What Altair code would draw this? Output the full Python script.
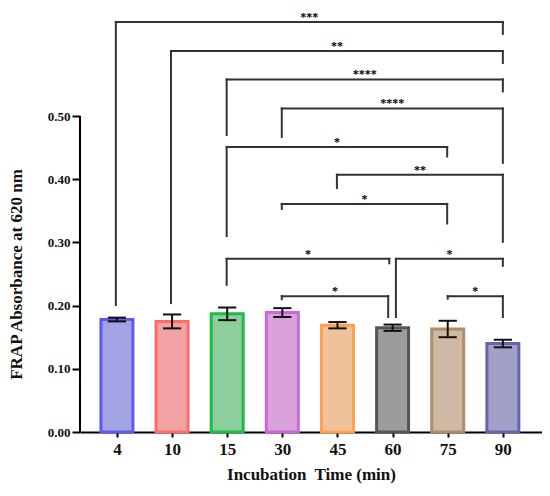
import altair as alt
import pandas as pd

# ---- data ----
times = ["4", "10", "15", "30", "45", "60", "75", "90"]
means = [0.178, 0.175, 0.187, 0.189, 0.169, 0.165, 0.163, 0.140]
errs = [0.003, 0.011, 0.010, 0.007, 0.005, 0.005, 0.013, 0.006]
fills = ["#a3a3e4", "#f2a2a2", "#8ccf9c", "#d9a2d9", "#f0c29c", "#9c9c9c", "#cfb9a5", "#a0a0c8"]
strokes = ["#5b5bf0", "#ff6b6b", "#1fbb48", "#cc66e0", "#ffa050", "#555555", "#b08c68", "#6464aa"]

# significance brackets: left pos, right pos, level, left leg end, right leg end, label
br_left = [-0.02, 0.98, 1.99, 2.99, 1.99, 3.99, 2.99, 1.99, 5.06, 2.99, 6.0]
br_right = [7.0, 7.0, 7.0, 7.0, 5.99, 7.0, 5.99, 4.94, 7.0, 4.92, 7.0]
br_level = [0.649, 0.603, 0.558, 0.512, 0.451, 0.407, 0.361, 0.274, 0.274, 0.215, 0.215]
br_lend = [0.201, 0.204, 0.470, 0.467, 0.310, 0.386, 0.353, 0.233, 0.182, 0.210, 0.211]
br_rend = [0.630, 0.584, 0.539, 0.426, 0.436, 0.301, 0.330, 0.267, 0.263, 0.182, 0.182]
br_label = ["***", "**", "****", "****", "*", "**", "*", "*", "*", "*", "*"]

# ---- tables ----
bar_half = 0.29
cap_half = 0.165
bars = pd.DataFrame({
    "idx": list(range(len(times))),
    "time": times,
    "mean": means,
    "err": errs,
})
bars["x0"] = bars["idx"] - bar_half
bars["x1"] = bars["idx"] + bar_half
bars["lo"] = bars["mean"] - bars["err"]
bars["hi"] = bars["mean"] + bars["err"]
bars["c0"] = bars["idx"] - cap_half
bars["c1"] = bars["idx"] + cap_half

caps = pd.concat([
    pd.DataFrame({"c0": bars["c0"], "c1": bars["c1"], "cy": bars["lo"]}),
    pd.DataFrame({"c0": bars["c0"], "c1": bars["c1"], "cy": bars["hi"]}),
])

segs = []
for l, r, lv, le, re_ in zip(br_left, br_right, br_level, br_lend, br_rend):
    segs.append({"sx": l, "sx2": r, "sy": lv, "sy2": lv})
    segs.append({"sx": l, "sx2": l, "sy": lv, "sy2": le})
    segs.append({"sx": r, "sx2": r, "sy": lv, "sy2": re_})
segs = pd.DataFrame(segs)

labels = pd.DataFrame({
    "tx": [(l + r) / 2 for l, r in zip(br_left, br_right)],
    "ty": br_level,
    "txt": br_label,
})

yaxis_line = pd.DataFrame({"a": [0.0], "b": [0.5]})

# ---- scales / axes ----
FONT = "Liberation Serif"
xs = alt.Scale(domain=[-0.67, 7.71], nice=False, zero=False)
ys = alt.Scale(domain=[0, 0.671], nice=False, zero=False)

label_expr = "[" + ",".join("'%s'" % t for t in times) + "][datum.value]"

x_axis = alt.Axis(
    values=list(range(len(times))), labelExpr=label_expr, title="Incubation\u00a0 Time (min)",
    grid=False, domainColor="black", domainWidth=2, tickColor="black", tickWidth=2, tickSize=5,
    labelFont=FONT, labelFontSize=17, labelFontWeight="bold", labelColor="#111", labelPadding=4,
    titleFont=FONT, titleFontSize=17, titleFontWeight="bold", titleColor="#111", titlePadding=9,
)
y_axis = alt.Axis(
    values=[0, 0.1, 0.2, 0.3, 0.4, 0.5], format=".2f", title="FRAP Absorbance at 620 nm",
    grid=False, domain=False, tickColor="black", tickWidth=2, tickSize=8,
    labelFont=FONT, labelFontSize=13, labelFontWeight="bold", labelColor="#111", labelPadding=2,
    titleFont=FONT, titleFontSize=17, titleFontWeight="bold", titleColor="#111", titlePadding=22,
    titleY=266,
)

bar_layer = alt.Chart(bars).mark_bar(strokeWidth=3).encode(
    x=alt.X("x0:Q", scale=xs, axis=x_axis),
    x2="x1",
    y=alt.Y("mean:Q", scale=ys, axis=y_axis),
    y2=alt.datum(0),
    fill=alt.Fill("time:N", scale=alt.Scale(domain=times, range=fills), legend=None),
    stroke=alt.Stroke("time:N", scale=alt.Scale(domain=times, range=strokes), legend=None),
)

err_layer = alt.Chart(bars).mark_rule(color="#111", strokeWidth=2).encode(
    x=alt.X("idx:Q", scale=xs, axis=x_axis),
    y=alt.Y("lo:Q", scale=ys, axis=y_axis),
    y2="hi",
)

cap_layer = alt.Chart(caps).mark_rule(color="#111", strokeWidth=2).encode(
    x=alt.X("c0:Q", scale=xs, axis=x_axis),
    x2="c1",
    y=alt.Y("cy:Q", scale=ys, axis=y_axis),
)

seg_layer = alt.Chart(segs).mark_rule(color="#333", strokeWidth=2, strokeCap="square").encode(
    x=alt.X("sx:Q", scale=xs, axis=x_axis),
    x2="sx2",
    y=alt.Y("sy:Q", scale=ys, axis=y_axis),
    y2="sy2",
)

txt_layer = alt.Chart(labels).mark_text(
    font=FONT, fontSize=12, fontWeight="bold", color="black", baseline="alphabetic", dy=-1
).encode(
    x=alt.X("tx:Q", scale=xs, axis=x_axis),
    y=alt.Y("ty:Q", scale=ys, axis=y_axis),
    text="txt:N",
)

yline = alt.Chart(yaxis_line).mark_rule(color="black", strokeWidth=2).encode(
    x=alt.value(0),
    y=alt.Y("a:Q", scale=ys, axis=y_axis),
    y2="b",
)

chart = alt.layer(bar_layer, err_layer, cap_layer, seg_layer, txt_layer, yline).properties(
    width=462, height=424,
    autosize=alt.AutoSizeParams(type="none"),
    padding={"left": 72, "top": 0, "right": 0, "bottom": 56},
    background="white",
).configure_view(stroke=None)

chart.save("out.html", embed_options={"renderer": "svg", "actions": False})
